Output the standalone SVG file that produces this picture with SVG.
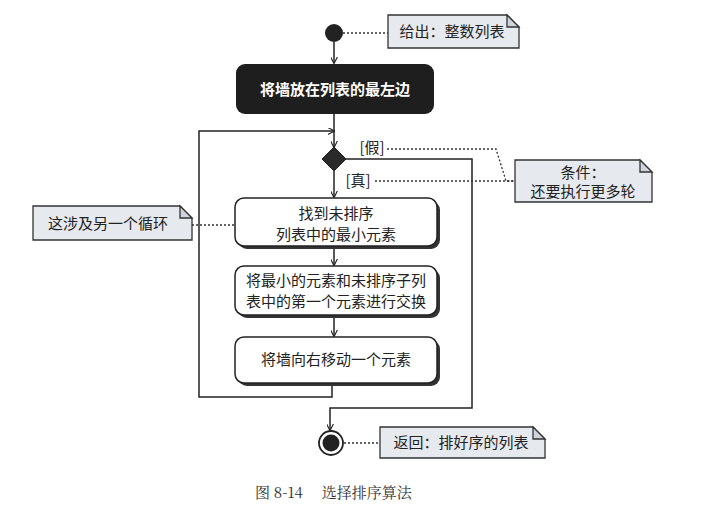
<svg xmlns="http://www.w3.org/2000/svg" width="717" height="520" viewBox="0 0 717 520">
<defs>
<marker id="arr" viewBox="0 0 10 10" refX="9" refY="5" markerWidth="7" markerHeight="7" orient="auto" markerUnits="userSpaceOnUse">
<path d="M0,0 L10,5 L0,10" fill="none" stroke="#222" stroke-width="1.6"/>
</marker>
</defs>
<style>
.t{font-family:"Noto Sans CJK SC","Liberation Sans",sans-serif;font-size:15px;fill:#222;text-anchor:middle;}
.w{fill:#fff;}
.box{fill:#fff;stroke:#222;stroke-width:1.5;}
.sh{fill:#333;}
.note{fill:#e6e9ee;stroke:#333;stroke-width:1.3;}
.fold{fill:#cfd3da;stroke:#333;stroke-width:1.3;}
.ln{fill:none;stroke:#222;stroke-width:1.5;}
.dot{fill:none;stroke:#333;stroke-width:1.3;stroke-dasharray:2 2;}
.cap{font-family:"Noto Serif CJK SC","Noto Sans CJK SC","Liberation Serif",serif;font-size:15px;fill:#333;}
</style>
<rect width="717" height="520" fill="#fff"/>

<g id="connectors">
<line class="ln" x1="334" y1="42" x2="334" y2="63" marker-end="url(#arr)"/>
<line class="ln" x1="334" y1="114" x2="334" y2="147" marker-end="url(#arr)"/>
<polyline class="ln" points="332,383 332,397 199,397 199,131 334,131" marker-end="url(#arr)"/>
<line class="ln" x1="334" y1="170" x2="334" y2="197" marker-end="url(#arr)"/>
<line class="ln" x1="334" y1="247" x2="334" y2="265" marker-end="url(#arr)"/>
<line class="ln" x1="334" y1="316" x2="334" y2="336" marker-end="url(#arr)"/>
<polyline class="ln" points="346,159 472,159 472,408 330,408 330,430" marker-end="url(#arr)"/>
<polyline class="dot" points="343,33 388,33"/>
<polyline class="dot" points="387,149 496,149 506,181 515,181"/>
<polyline class="dot" points="375,181 515,181"/>
<polyline class="dot" points="192,225 235,225"/>
<polyline class="dot" points="344,443 380,443"/>
</g>

<g id="start"><circle cx="334" cy="33" r="9" fill="#222"/></g>

<g id="note-input">
<path class="note" d="M388,15 H507 L519,27 V48 H388 Z"/>
<path class="fold" d="M507,15 V27 H519 Z"/>
<text class="t" x="452" y="37">给出：整数列表</text>
</g>

<g id="init">
<rect x="236" y="64" width="198" height="50" rx="9" fill="#1e1e1e"/>
<text class="t w" x="335" y="95" font-weight="bold">将墙放在列表的最左边</text>
</g>

<g id="decision">
<path d="M334,147 L346,159 L334,171 L322,159 Z" fill="#2a2a2a" stroke="#222" stroke-width="1"/>
<text class="t" x="372" y="153" font-size="14">[假]</text>
<text class="t" x="358" y="186" font-size="14">[真]</text>
</g>

<g id="note-cond">
<path class="note" d="M515,160 H640 L652,172 V202 H515 Z"/>
<path class="fold" d="M640,160 V172 H652 Z"/>
<text class="t" x="583" y="178">条件：</text>
<text class="t" x="583" y="197">还要执行更多轮</text>
</g>

<g id="find-min">
<rect class="sh" x="238" y="201" width="202" height="48" rx="9"/>
<rect class="box" x="235" y="198" width="202" height="48" rx="9"/>
<text class="t" x="336" y="219">找到未排序</text>
<text class="t" x="336" y="240">列表中的最小元素</text>
</g>

<g id="note-loop">
<path class="note" d="M33,206 H180 L192,218 V240 H33 Z"/>
<path class="fold" d="M180,206 V218 H192 Z"/>
<text class="t" x="108" y="229">这涉及另一个循环</text>
</g>

<g id="swap">
<rect class="sh" x="238" y="269" width="202" height="49" rx="9"/>
<rect class="box" x="235" y="266" width="202" height="49" rx="9"/>
<text class="t" x="336" y="286">将最小的元素和未排序子列</text>
<text class="t" x="336" y="307">表中的第一个元素进行交换</text>
</g>

<g id="move-wall">
<rect class="sh" x="238" y="340" width="202" height="46" rx="9"/>
<rect class="box" x="235" y="337" width="202" height="46" rx="9"/>
<text class="t" x="336" y="365">将墙向右移动一个元素</text>
</g>

<g id="end">
<circle cx="331" cy="443" r="12" fill="#fff" stroke="#222" stroke-width="1.8"/>
<circle cx="331" cy="443" r="8.5" fill="#222"/>
</g>

<g id="note-return">
<path class="note" d="M380,427 H533 L545,439 V458 H380 Z"/>
<path class="fold" d="M533,427 V439 H545 Z"/>
<text class="t" x="461" y="448">返回：排好序的列表</text>
</g>

<text class="cap" x="255" y="498">图 8-14　 选择排序算法</text>
</svg>
